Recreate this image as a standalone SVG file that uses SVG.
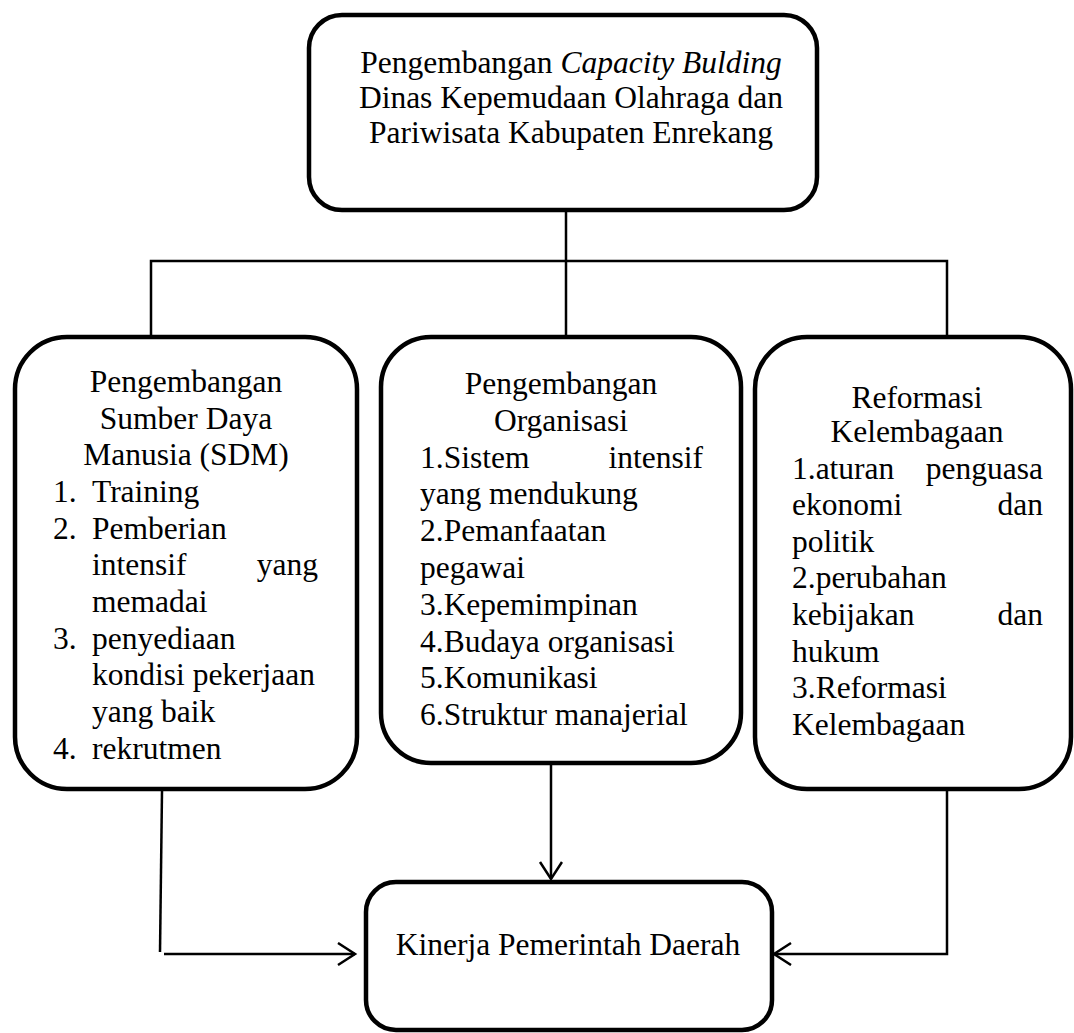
<svg xmlns="http://www.w3.org/2000/svg" width="1074" height="1033" viewBox="0 0 1074 1033">
<style>
.box{fill:#fff;stroke:#000;stroke-width:4.5}
.t{font-family:"Liberation Serif","Times New Roman",serif;font-size:31.5px;fill:#000}
.c{text-anchor:middle}
.e{text-anchor:end}
.con{fill:none;stroke:#000;stroke-width:2.5}
</style>
<defs>
<marker id="arr" markerUnits="userSpaceOnUse" markerWidth="24" markerHeight="26" refX="19" refY="12" orient="auto" viewBox="0 0 24 26">
<path d="M2,1 L19,12 L2,23" fill="none" stroke="#000" stroke-width="2.5"/>
</marker>
</defs>
<rect width="1074" height="1033" fill="#fff"/>
<g id="connectors">
<path class="con" d="M566,210 V261 M151,337 V261 H947 V337 M566,261 V337"/>
<path class="con" d="M162,791 L160,952"/>
<path class="con" d="M164,954 H355" marker-end="url(#arr)"/>
<path class="con" d="M947,791 V954 H774" marker-end="url(#arr)"/>
<path class="con" d="M551,765 V879" marker-end="url(#arr)"/>
</g>
<g id="top">
<rect class="box" x="309" y="15" width="508" height="195" rx="33"/>
<text class="t c" x="571" y="73">Pengembangan <tspan font-style="italic">Capacity Bulding</tspan></text>
<text class="t c" x="571" y="107.5">Dinas Kepemudaan Olahraga dan</text>
<text class="t c" x="571" y="142.5">Pariwisata Kabupaten Enrekang</text>
</g>
<g id="sdm">
<rect class="box" x="15" y="337" width="342" height="452" rx="52"/>
<text class="t c" x="186" y="392">Pengembangan</text>
<text class="t c" x="186" y="428.7">Sumber Daya</text>
<text class="t c" x="186" y="465.3">Manusia (SDM)</text>
<text class="t" x="53" y="502">1.</text><text class="t" x="92" y="502">Training</text>
<text class="t" x="53" y="538.7">2.</text><text class="t" x="92" y="538.7">Pemberian</text>
<text class="t" x="92" y="575.3">intensif</text><text class="t e" x="318" y="575.3">yang</text>
<text class="t" x="92" y="612">memadai</text>
<text class="t" x="53" y="648.7">3.</text><text class="t" x="92" y="648.7">penyediaan</text>
<text class="t" x="92" y="685.3">kondisi pekerjaan</text>
<text class="t" x="92" y="722">yang baik</text>
<text class="t" x="53" y="758.7">4.</text><text class="t" x="92" y="758.7">rekrutmen</text>
</g>
<g id="organisasi">
<rect class="box" x="381" y="337" width="360" height="426" rx="50"/>
<text class="t c" x="561" y="394">Pengembangan</text>
<text class="t c" x="561" y="430.8">Organisasi</text>
<text class="t" x="420" y="467.6">1.Sistem</text><text class="t e" x="703" y="467.6">intensif</text>
<text class="t" x="420" y="504.4">yang mendukung</text>
<text class="t" x="420" y="541.2">2.Pemanfaatan</text>
<text class="t" x="420" y="578">pegawai</text>
<text class="t" x="420" y="614.8">3.Kepemimpinan</text>
<text class="t" x="420" y="651.6">4.Budaya organisasi</text>
<text class="t" x="420" y="688.4">5.Komunikasi</text>
<text class="t" x="420" y="725.2">6.Struktur manajerial</text>
</g>
<g id="kelembagaan">
<rect class="box" x="755" y="337" width="316" height="452" rx="52"/>
<text class="t c" x="917" y="408" font-size="29">Reformasi</text>
<text class="t c" x="917" y="442">Kelembagaan</text>
<text class="t" x="792" y="478.5">1.aturan</text><text class="t e" x="1043" y="478.5">penguasa</text>
<text class="t" x="792" y="515">ekonomi</text><text class="t e" x="1043" y="515">dan</text>
<text class="t" x="792" y="551.7">politik</text>
<text class="t" x="792" y="588.3">2.perubahan</text>
<text class="t" x="792" y="625">kebijakan</text><text class="t e" x="1043" y="625">dan</text>
<text class="t" x="792" y="661.7">hukum</text>
<text class="t" x="792" y="698.3">3.Reformasi</text>
<text class="t" x="792" y="735">Kelembagaan</text>
</g>
<g id="kinerja">
<rect class="box" x="366" y="882" width="406" height="148" rx="30"/>
<text class="t c" x="568" y="955">Kinerja Pemerintah Daerah</text>
</g>
</svg>
